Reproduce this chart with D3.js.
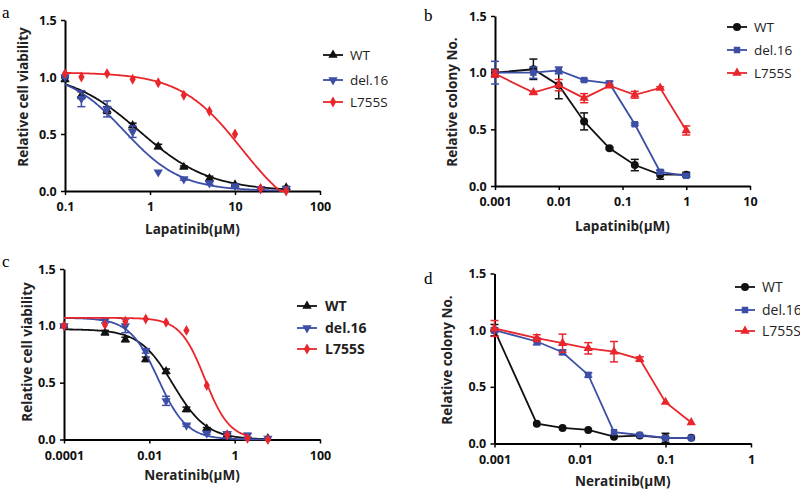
<!DOCTYPE html>
<html>
<head>
<meta charset="utf-8">
<script src="https://cdn.jsdelivr.net/npm/d3@7"></script>
<style>
body { margin: 0; background: #fff; }
text { font-family: 'Open Sans', sans-serif; }
</style>
</head>
<body>
<script>
const width = 800,
      height = 490

const black = '#111', blue = '#3c4ea6', red = '#e8262c'

// panel a: cell viability vs lapatinib
const aDose = [0.1, 0.156, 0.3125, 0.625, 1.25, 2.5, 5, 10, 20, 40]
const aWT = [0.98, 0.84, 0.71, 0.575, 0.39, 0.21, 0.11, 0.055, 0.02, 0.03]
const aWTErr = [0.02, 0.03, 0.03, 0.02, 0.02, 0.01, 0.02, 0.01, 0.01, 0.01]
const aDel = [1.0, 0.81, 0.72, 0.52, 0.165, 0.105, 0.07, 0.045, 0.02, 0.02]
const aDelErr = [0.01, 0.07, 0.07, 0.05, 0, 0.01, 0.01, 0.01, 0, 0]
const aL = [1.03, 1.0, 1.03, 0.98, 0.95, 0.84, 0.70, 0.50, 0.02, 0.0]
// 4PL fit: top, bottom, IC50, hill
const aFitWT = [1.05, 0, 0.75, 1.05]
const aFitDel = [1.05, 0, 0.5, 1.3]
const aFitL = [1.04, -0.3, 12, 1.2]

// panel b: colony number vs lapatinib
const bDose = [0.001, 0.004, 0.01, 0.025, 0.0625, 0.156, 0.39, 1]
const bWT = [1.0, 1.03, 0.89, 0.57, 0.333, 0.185, 0.1, 0.1]
const bWTErr = [0.03, 0.09, 0.12, 0.075, 0.01, 0.05, 0.04, 0.02]
const bDel = [1.0, 1.0, 1.02, 0.935, 0.905, 0.545, 0.125, 0.09]
const bDelErr = [0.1, 0.05, 0.03, 0.01, 0.02, 0.01, 0.01, 0.01]
const bL = [0.99, 0.825, 0.89, 0.775, 0.885, 0.805, 0.865, 0.49]
const bLErr = [0.03, 0.01, 0.05, 0.04, 0.01, 0.03, 0.01, 0.04]

// panel c: cell viability vs neratinib
const cDose = [0.0001, 0.000914, 0.00274, 0.00823, 0.0247, 0.0741, 0.222, 0.667, 2, 6]
const cWT = [1.0, 0.94, 0.88, 0.705, 0.6, 0.265, 0.095, 0.04, 0.01, 0.01]
const cWTErr = [0.01, 0.02, 0.02, 0.02, 0.02, 0.02, 0.01, 0.01, 0.01, 0]
const cDel = [1.0, 1.045, 1.0, 0.78, 0.34, 0.125, 0.055, 0.05, 0.035, 0.01]
const cDelErr = [0.01, 0.02, 0.06, 0.02, 0.04, 0.01, 0.01, 0.01, 0.02, 0]
const cL = [1.0, 1.01, 1.04, 1.06, 1.03, 0.96, 0.475, 0.04, 0.01, 0.0]
const cFitWT = [0.97, 0, 0.036, 1.1]
const cFitDel = [1.07, 0, 0.016, 1.3]
const cFitL = [1.07, 0, 0.2, 1.5]

// panel d: colony number vs neratinib
const dDose = [0.001, 0.003125, 0.00625, 0.0125, 0.025, 0.05, 0.1, 0.2]
const dWT = [1.0, 0.175, 0.137, 0.12, 0.06, 0.07, 0.05, 0.05]
const dWTErr = [0.05, 0, 0, 0, 0, 0, 0.04, 0]
const dDel = [1.0, 0.9, 0.805, 0.605, 0.1, 0.075, 0.05, 0.05]
const dDelErr = [0.02, 0.03, 0.02, 0.02, 0, 0, 0, 0]
const dL = [1.015, 0.93, 0.885, 0.84, 0.81, 0.745, 0.365, 0.185]
const dLErr = [0.07, 0.03, 0.08, 0.05, 0.09, 0.02, 0, 0]

const yTicks = [0, 0.5, 1.0, 1.5]

const svg = d3.select('body').append('svg')
    .attr('width', width)
    .attr('height', height)

function fourPL(x, p) {
    return p[1] + (p[0] - p[1]) / (1 + Math.pow(x / p[2], p[3]))
}

function drawPanel(p) {
    const x = d3.scaleLog().domain(p.domain).range([p.left, p.right])
    const y = d3.scaleLinear().domain([0, 1.5]).range([p.bottom, p.top]).clamp(true)

    const g = svg.append('g')

    // panel letter
    g.append('text')
        .attr('x', p.label[1]).attr('y', p.label[2])
        .style('font-family', "'Liberation Serif', serif")
        .style('font-size', '17px')
        .text(p.label[0])

    // axes
    const xAxis = g.append('g')
        .attr('transform', `translate(0,${p.bottom})`)
        .call(d3.axisBottom(x).tickValues(p.ticks).tickFormat((d, i) => p.tickText[i]).tickSize(4).tickSizeOuter(0))
    const yAxis = g.append('g')
        .attr('transform', `translate(${p.left},0)`)
        .call(d3.axisLeft(y).tickValues(yTicks).tickFormat(d3.format('.1f')).tickSize(4).tickSizeOuter(0))

    ;[xAxis, yAxis].forEach(a => {
        a.select('.domain').attr('stroke', '#000').attr('stroke-width', 2)
        a.selectAll('.tick line').attr('stroke', '#000').attr('stroke-width', 1.5)
        a.selectAll('.tick text')
            .style('font-family', "'Open Sans', sans-serif")
            .style('font-size', '12.5px')
            .style('font-weight', 'bold')
            .attr('fill', '#111')
    })
    xAxis.selectAll('.tick text').attr('dy', '1.05em')
    yAxis.selectAll('.tick text').attr('dx', '-0.1em')

    g.append('text')
        .attr('x', (p.left + p.right) / 2 + p.xTitleDx)
        .attr('y', p.xTitleY)
        .attr('text-anchor', 'middle')
        .style('font-size', '13.5px')
        .style('font-weight', 'bold')
        .attr('fill', '#222')
        .text(p.xTitle)

    g.append('text')
        .attr('transform', `translate(${p.yTitleX},${p.yTitleY}) rotate(-90)`)
        .attr('text-anchor', 'middle')
        .style('font-size', '13.5px')
        .style('font-weight', 'bold')
        .attr('fill', '#222')
        .text(p.yTitle)

    p.series.forEach(s => {
        const pts = s.dose.map((d, i) => ({x: d, y: s.values[i], e: s.errors ? s.errors[i] : 0}))

        if (s.fit) {
            const lo = Math.log10(p.domain[0]), hi = Math.log10(s.fitEnd)
            const xs = d3.range(0, 201).map(i => Math.pow(10, lo + (hi - lo) * i / 200))
            g.append('path')
                .datum(xs)
                .attr('fill', 'none')
                .attr('stroke', s.color)
                .attr('stroke-width', 1.8)
                .attr('d', d3.line().x(d => x(d)).y(d => y(fourPL(d, s.fit))))
        } else {
            g.append('path')
                .datum(pts)
                .attr('fill', 'none')
                .attr('stroke', s.color)
                .attr('stroke-width', 1.8)
                .attr('d', d3.line().x(d => x(d.x)).y(d => y(d.y)))
        }

        // error bars
        const eb = g.selectAll(null)
            .data(pts.filter(d => d.e > 0))
            .enter()
            .append('g')
            .attr('stroke', s.color)
            .attr('stroke-width', 1.5)
        eb.append('line')
            .attr('x1', d => x(d.x)).attr('x2', d => x(d.x))
            .attr('y1', d => y(d.y - d.e)).attr('y2', d => y(d.y + d.e))
        eb.append('line')
            .attr('x1', d => x(d.x) - 4).attr('x2', d => x(d.x) + 4)
            .attr('y1', d => y(d.y + d.e)).attr('y2', d => y(d.y + d.e))
        eb.append('line')
            .attr('x1', d => x(d.x) - 4).attr('x2', d => x(d.x) + 4)
            .attr('y1', d => y(d.y - d.e)).attr('y2', d => y(d.y - d.e))

        g.selectAll(null)
            .data(pts)
            .enter()
            .append('path')
            .attr('d', d3.symbol().type(s.symbol).size(s.size))
            .attr('transform', d => `translate(${x(d.x)},${y(d.y)}) rotate(${s.rotate})`)
            .attr('fill', s.color)
    })

    // legend
    const lg = g.append('g')
    p.series.forEach((s, i) => {
        const ly = p.legend.y[i]
        lg.append('line')
            .attr('x1', p.legend.x).attr('x2', p.legend.x + 20)
            .attr('y1', ly).attr('y2', ly)
            .attr('stroke', s.color).attr('stroke-width', 1.8)
        lg.append('path')
            .attr('d', d3.symbol().type(s.symbol).size(s.size))
            .attr('transform', `translate(${p.legend.x + 10},${ly}) rotate(${s.rotate})`)
            .attr('fill', s.color)
        lg.append('text')
            .attr('x', p.legend.x + p.legend.dx)
            .attr('y', ly)
            .attr('dy', '0.36em')
            .style('font-size', p.legend.size + 'px')
            .style('font-weight', p.legend.bold ? 'bold' : 'normal')
            .attr('fill', '#222')
            .text(s.name)
    })
}

drawPanel({
    label: ['a', 2, 18],
    domain: [0.1, 100], left: 65, right: 320, top: 20, bottom: 191,
    ticks: [0.1, 1, 10, 100], tickText: ['0.1', '1', '10', '100'],
    xTitle: 'Lapatinib(\u03bcM)', xTitleDx: 0, xTitleY: 234,
    yTitle: 'Relative cell viability', yTitleX: 28, yTitleY: 97,
    series: [
        {name: 'WT', color: black, symbol: d3.symbolTriangle, rotate: 0, size: 38, dose: aDose, values: aWT, errors: aWTErr, fit: aFitWT, fitEnd: 40},
        {name: 'del.16', color: blue, symbol: d3.symbolTriangle, rotate: 180, size: 38, dose: aDose, values: aDel, errors: aDelErr, fit: aFitDel, fitEnd: 40},
        {name: 'L755S', color: red, symbol: d3.symbolDiamond, rotate: 0, size: 34, dose: aDose, values: aL, errors: null, fit: aFitL, fitEnd: 40}
    ],
    legend: {x: 323, dx: 27, y: [55, 80, 102], size: 13.5, bold: false}
})

drawPanel({
    label: ['b', 424, 21],
    domain: [0.001, 10], left: 495, right: 750, top: 16, bottom: 186,
    ticks: [0.001, 0.01, 0.1, 1, 10], tickText: ['0.001', '0.01', '0.1', '1', '10'],
    xTitle: 'Lapatinib(\u03bcM)', xTitleDx: 0, xTitleY: 231,
    yTitle: 'Relative colony No.', yTitleX: 457, yTitleY: 102,
    series: [
        {name: 'WT', color: black, symbol: d3.symbolCircle, rotate: 0, size: 50, dose: bDose, values: bWT, errors: bWTErr},
        {name: 'del.16', color: blue, symbol: d3.symbolSquare, rotate: 0, size: 42, dose: bDose, values: bDel, errors: bDelErr},
        {name: 'L755S', color: red, symbol: d3.symbolTriangle, rotate: 0, size: 38, dose: bDose, values: bL, errors: bLErr}
    ],
    legend: {x: 727, dx: 27, y: [27, 50, 73], size: 13.5, bold: false}
})

drawPanel({
    label: ['c', 2, 267],
    domain: [0.0001, 100], left: 64, right: 320, top: 269, bottom: 439.5,
    ticks: [0.0001, 0.01, 1, 100], tickText: ['0.0001', '0.01', '1', '100'],
    xTitle: 'Neratinib(\u03bcM)', xTitleDx: 0, xTitleY: 480,
    yTitle: 'Relative cell viability', yTitleX: 32, yTitleY: 352,
    series: [
        {name: 'WT', color: black, symbol: d3.symbolTriangle, rotate: 0, size: 38, dose: cDose, values: cWT, errors: cWTErr, fit: cFitWT, fitEnd: 6},
        {name: 'del.16', color: blue, symbol: d3.symbolTriangle, rotate: 180, size: 38, dose: cDose, values: cDel, errors: cDelErr, fit: cFitDel, fitEnd: 6},
        {name: 'L755S', color: red, symbol: d3.symbolDiamond, rotate: 0, size: 34, dose: cDose, values: cL, errors: null, fit: cFitL, fitEnd: 2}
    ],
    legend: {x: 297, dx: 28, y: [306, 328, 349], size: 14, bold: true}
})

drawPanel({
    label: ['d', 424, 284],
    domain: [0.001, 1], left: 494.5, right: 751, top: 273.5, bottom: 443.5,
    ticks: [0.001, 0.01, 0.1, 1], tickText: ['0.001', '0.01', '0.1', '1'],
    xTitle: 'Neratinib(\u03bcM)', xTitleDx: 0, xTitleY: 486,
    yTitle: 'Relative colony No.', yTitleX: 452, yTitleY: 360,
    series: [
        {name: 'WT', color: black, symbol: d3.symbolCircle, rotate: 0, size: 50, dose: dDose, values: dWT, errors: dWTErr},
        {name: 'del.16', color: blue, symbol: d3.symbolSquare, rotate: 0, size: 42, dose: dDose, values: dDel, errors: dDelErr},
        {name: 'L755S', color: red, symbol: d3.symbolTriangle, rotate: 0, size: 38, dose: dDose, values: dL, errors: dLErr}
    ],
    legend: {x: 735, dx: 27, y: [287, 310, 331], size: 14, bold: false}
})
</script>
</body>
</html>
